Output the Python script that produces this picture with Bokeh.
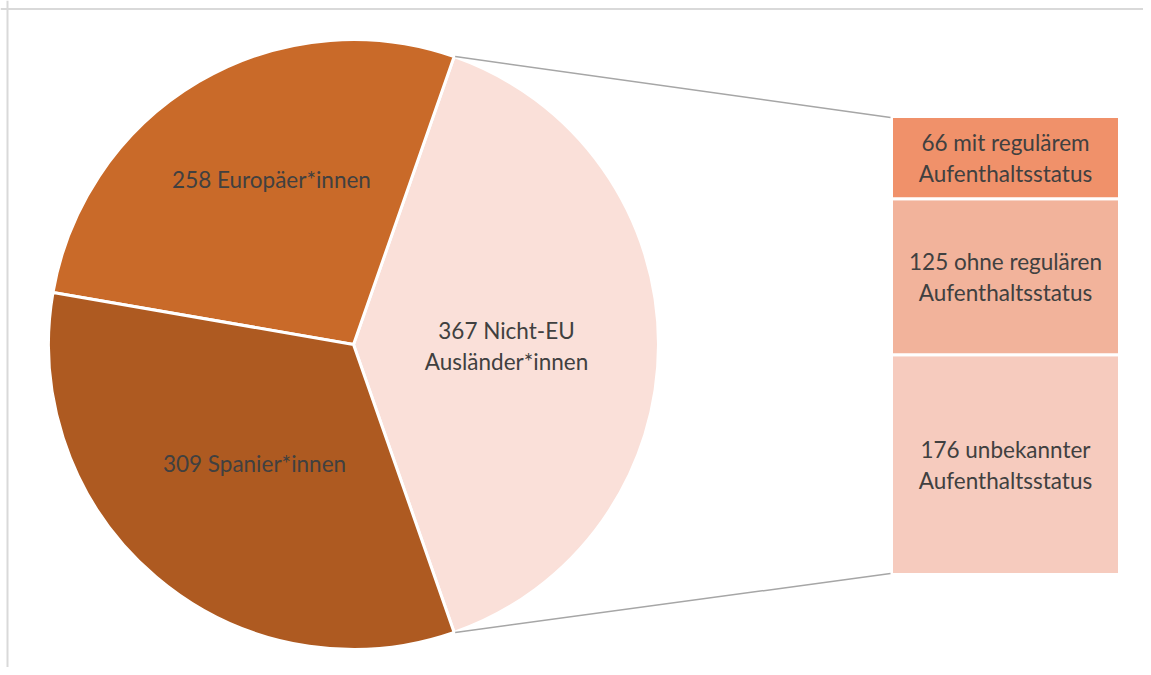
import numpy as np
from bokeh.plotting import figure
from bokeh.models import Range1d, Span
from bokeh.core.properties import value
from bokeh.embed import file_html
from bokeh.resources import INLINE

# --- data ---
pie_labels = ["367 Nicht-EU\nAusländer*innen", "258 Europäer*innen", "309 Spanier*innen"]
pie_values = [367, 258, 309]
pie_colors = ["#FAE0D9", "#C96A29", "#AE5A21"]

bar_labels = ["176 unbekannter\nAufenthaltsstatus", "125 ohne regulären\nAufenthaltsstatus", "66 mit regulärem\nAufenthaltsstatus"]
bar_values = [176, 125, 66]
bar_colors = ["#F6CBBE", "#F2B39B", "#F0916A"]

W, H = 1143, 667
p = figure(width=W, height=H, output_backend="svg", toolbar_location=None,
           x_range=Range1d(0, W), y_range=Range1d(0, H), min_border=0)
p.axis.visible = False
p.grid.visible = False
p.outline_line_color = None
p.background_fill_color = "white"

# frame lines (top and left only visible in reference)
p.add_layout(Span(location=H - 8.5, dimension="width", line_color="#D9D9D9", line_width=2))
p.add_layout(Span(location=7, dimension="height", line_color="#D9D9D9", line_width=2))

# --- pie ---
cx, cy, r = 353, H - 344, 305
total = sum(pie_values)
fr = np.array(pie_values) / total
first_half = fr[0] * np.pi
starts = -first_half + np.concatenate([[0], np.cumsum(fr[:-1])]) * 2 * np.pi
ends = -first_half + np.cumsum(fr) * 2 * np.pi
p.wedge(x=cx, y=cy, radius=r, start_angle=starts, end_angle=ends,
        fill_color=pie_colors, line_color="white", line_width=3)

# --- bar (own scale) ---
bar_top_px, bar_bot_px = H - 116, H - 574
btot = sum(bar_values)
upp = btot / (bar_top_px - bar_bot_px)
p.extra_y_ranges = {"bar": Range1d(-bar_bot_px * upp, btot + (H - bar_top_px) * upp)}
bb = np.concatenate([[0], np.cumsum(bar_values)[:-1]])
bt = np.cumsum(bar_values)
bx0, bx1 = 891, 1119
p.quad(left=bx0, right=bx1, bottom=bb, top=bt, y_range_name="bar",
       fill_color=bar_colors, line_color="white", line_width=3)

# connector lines
a = first_half
ex, ey_top, ey_bot = cx + r * np.cos(a) + 1, cy + r * np.sin(a), cy - r * np.sin(a)
p.segment(x0=[ex, ex], y0=[ey_top, ey_bot], x1=[bx0 - 1, bx0 - 1], y1=[bar_top_px - 1, bar_bot_px + 1],
          line_color="#A6A6A6", line_width=1.5)

# --- labels ---
font = value("Lato")
lbl_x = [506, 271, 254]
lbl_y = [H - 345.5, H - 179, H - 463]
p.text(x=lbl_x, y=lbl_y, text=pie_labels, text_font=font, text_font_size="22.5px",
       text_color="#404040", text_align="center", text_baseline="middle", text_line_height=1.15)

bar_mid = (bb + bt) / 2
p.text(x=[(bx0 + bx1) / 2] * 3, y=bar_mid, text=bar_labels, y_range_name="bar",
       text_font=font, text_font_size="22.5px", text_color="#404040",
       text_align="center", text_baseline="middle", text_line_height=1.15)

open("out.html", "w").write(file_html(p, INLINE))
